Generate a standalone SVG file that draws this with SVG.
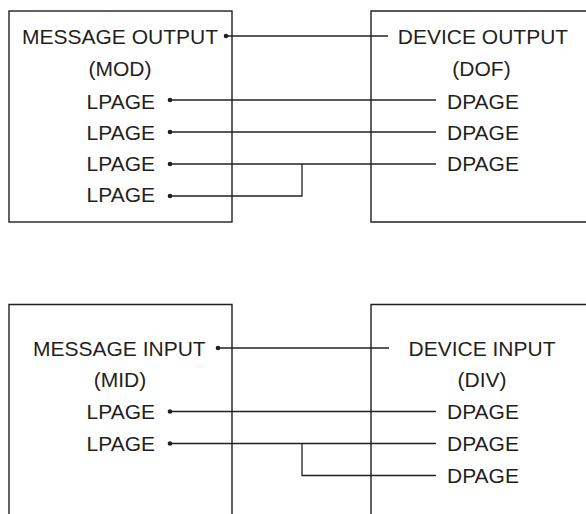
<svg xmlns="http://www.w3.org/2000/svg" width="586" height="514" viewBox="0 0 586 514">
<style>
  .box{fill:none;stroke:#231f20;stroke-width:1.4}
  .ln{fill:none;stroke:#231f20;stroke-width:1.3}
  .dot{fill:#231f20}
  text{font-family:"Liberation Sans",Arial,sans-serif;font-size:21px;fill:#231f20}
  .m{text-anchor:middle}
  .e{text-anchor:end}
</style>
<rect width="586" height="514" fill="#fff"/>
<g id="mod">
  <rect class="box" x="9" y="11" width="223" height="211"/>
  <text x="22" y="43.5" textLength="196">MESSAGE OUTPUT</text>
  <text class="m" x="120" y="76">(MOD)</text>
  <text class="e" x="155" y="108.5">LPAGE</text>
  <text class="e" x="155" y="140">LPAGE</text>
  <text class="e" x="155" y="171">LPAGE</text>
  <text class="e" x="155" y="202">LPAGE</text>
</g>
<g id="dof">
  <path class="box" d="M600,11 H371 V222 H600"/>
  <text class="m" x="483" y="43.5">DEVICE OUTPUT</text>
  <text class="m" x="481.5" y="76">(DOF)</text>
  <text x="447" y="108.5">DPAGE</text>
  <text x="447" y="140">DPAGE</text>
  <text x="447" y="171">DPAGE</text>
</g>
<g id="mid">
  <path class="box" d="M9,530 V304.5 H232 V530"/>
  <text x="33" y="356">MESSAGE INPUT</text>
  <text class="m" x="120" y="387">(MID)</text>
  <text class="e" x="155" y="419">LPAGE</text>
  <text class="e" x="155" y="451">LPAGE</text>
</g>
<g id="div">
  <path class="box" d="M371,530 V304.5 H600"/>
  <text class="m" x="482" y="355.5">DEVICE INPUT</text>
  <text class="m" x="482" y="387">(DIV)</text>
  <text x="447" y="419">DPAGE</text>
  <text x="447" y="451">DPAGE</text>
  <text x="447" y="483">DPAGE</text>
</g>
<g id="connectors">
  <path class="ln" d="M226,36 H388"/>
  <path class="ln" d="M170,100 H436"/>
  <path class="ln" d="M170,132 H436"/>
  <path class="ln" d="M170,164 H436"/>
  <path class="ln" d="M170,196 H302 V164"/>
  <circle class="dot" cx="226" cy="36" r="2.3"/>
  <circle class="dot" cx="170" cy="100" r="2.3"/>
  <circle class="dot" cx="170" cy="132" r="2.3"/>
  <circle class="dot" cx="170" cy="164" r="2.3"/>
  <circle class="dot" cx="170" cy="196" r="2.3"/>
  <path class="ln" d="M218,348 H389"/>
  <path class="ln" d="M170,411.5 H436"/>
  <path class="ln" d="M170,443.5 H436"/>
  <path class="ln" d="M302,443.5 V475.5 H436"/>
  <circle class="dot" cx="218" cy="348" r="2.3"/>
  <circle class="dot" cx="170" cy="411.5" r="2.3"/>
  <circle class="dot" cx="170" cy="443.5" r="2.3"/>
</g>
</svg>
